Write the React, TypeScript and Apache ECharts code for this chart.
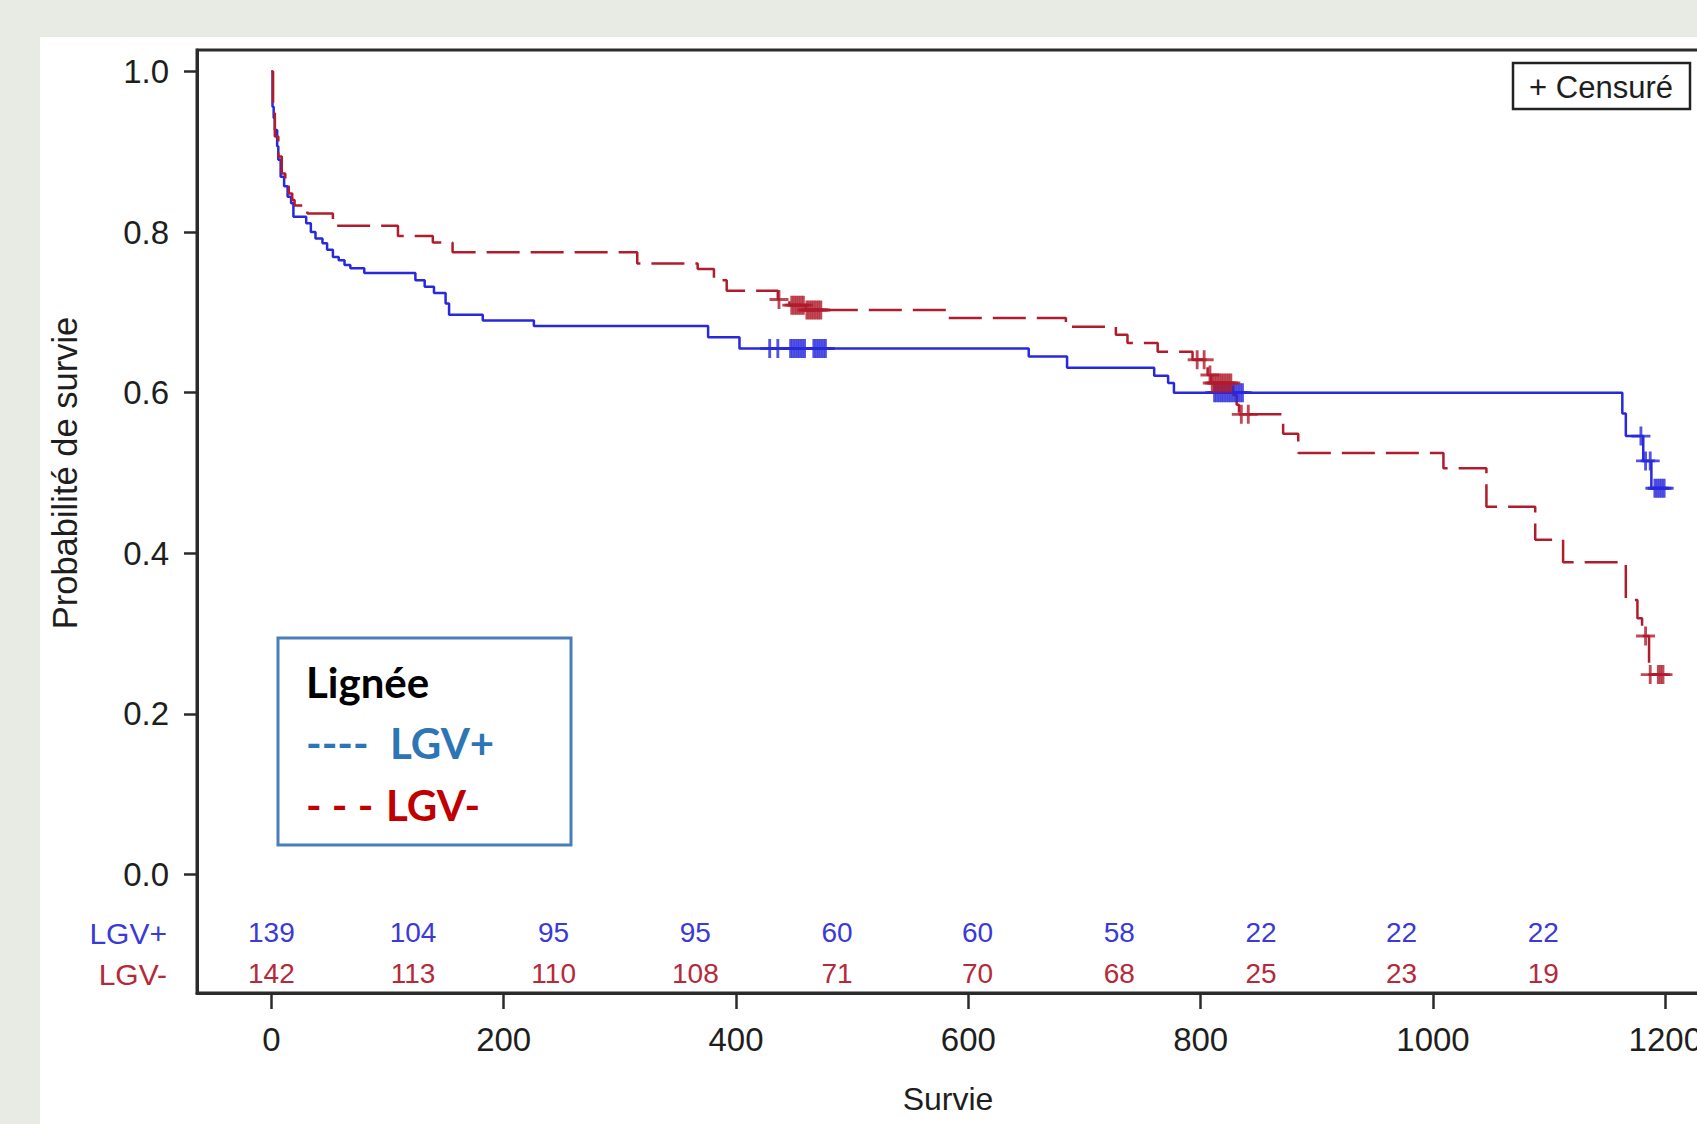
import React, { useEffect, useRef } from "react";
import * as echarts from "echarts";

// ---------- data ----------
const xTicks = [0, 200, 400, 600, 800, 1000, 1200];
const yTicks = [0, 0.2, 0.4, 0.6, 0.8, 1.0];

const atRiskTimes = [0, 122, 243, 365, 487, 608, 730, 852, 973, 1095];
const atRiskPlus = [139, 104, 95, 95, 60, 60, 58, 22, 22, 22];
const atRiskMinus = [142, 113, 110, 108, 71, 70, 68, 25, 23, 19];

// Kaplan-Meier steps [time, survival] for LGV+
const lgvPlusCurve = [
  [0, 1.0], [1, 0.956], [2, 0.942], [3, 0.927], [5, 0.907], [6, 0.89], [8, 0.869],
  [11, 0.857], [14, 0.844], [17, 0.836], [19, 0.819], [30, 0.811], [34, 0.8],
  [38, 0.792], [44, 0.786], [48, 0.778], [53, 0.769], [58, 0.765], [63, 0.759],
  [68, 0.755], [80, 0.749], [124, 0.74], [132, 0.732], [140, 0.724], [150, 0.711],
  [153, 0.697], [182, 0.69], [226, 0.683], [376, 0.669], [403, 0.655], [652, 0.645],
  [685, 0.631], [760, 0.621], [772, 0.612], [777, 0.6], [1163, 0.574], [1166, 0.546],
  [1181, 0.515], [1188, 0.481], [1199, 0.481],
];

// Kaplan-Meier steps [time, survival] for LGV-
const lgvMinusCurve = [
  [0, 1.0], [1.5, 0.948], [3, 0.919], [6, 0.894], [9, 0.873], [12, 0.857], [15, 0.848],
  [18, 0.84], [20, 0.833], [31, 0.823], [53, 0.808], [109, 0.795], [139, 0.787],
  [156, 0.775], [315, 0.761], [367, 0.754], [381, 0.74], [392, 0.727], [436, 0.716],
  [446, 0.709], [460, 0.703], [583, 0.693], [684, 0.682], [727, 0.672], [737, 0.662],
  [763, 0.651], [793, 0.641], [806, 0.622], [809, 0.612], [828, 0.597], [831, 0.585],
  [833, 0.573], [871, 0.549], [884, 0.525], [1009, 0.506], [1046, 0.458], [1088, 0.417],
  [1112, 0.389], [1166, 0.342], [1176, 0.319], [1180, 0.297], [1186, 0.249], [1198, 0.249],
];

// censored observations [time, survival]
const lgvPlusCensored = [
  [429, 0.655], [436, 0.655],
  [447, 0.655], [449, 0.655], [451, 0.655], [453, 0.655], [455, 0.655], [457, 0.655], [459, 0.655],
  [467, 0.655], [469, 0.655], [471, 0.655], [473, 0.655], [475, 0.655], [477, 0.655],
  [812, 0.6], [814, 0.6], [816, 0.6], [818, 0.6], [820, 0.6], [822, 0.6], [824, 0.6],
  [826, 0.6], [828, 0.6], [830, 0.6], [832, 0.6], [834, 0.6], [836, 0.6],
  [1179, 0.546], [1183, 0.515], [1187, 0.515],
  [1191, 0.481], [1193, 0.481], [1195, 0.481], [1197, 0.481], [1199, 0.481],
];

const lgvMinusCensored = [
  [437, 0.716],
  [448, 0.709], [450, 0.709], [452, 0.709], [454, 0.709], [456, 0.709], [458, 0.709],
  [461, 0.703], [463, 0.703], [465, 0.703], [467, 0.703], [469, 0.703], [471, 0.703], [473, 0.703],
  [797, 0.641], [803, 0.641], [808, 0.622],
  [810, 0.612], [812, 0.612], [814, 0.612], [816, 0.612], [818, 0.612], [820, 0.612],
  [822, 0.612], [824, 0.612], [826, 0.612],
  [835, 0.573], [841, 0.573],
  [1183, 0.297],
  [1187, 0.249], [1194, 0.249], [1196, 0.249], [1198, 0.249],
];

// ---------- styles ----------
const FONT = '"Liberation Sans", Arial, Helvetica, sans-serif';
const LEG_FONT = 'Lato, "Open Sans", sans-serif';
const BLUE = "#2828dc";
const RED = "#b01c2c";
const BLUE_TXT = "#3a3ad8";
const RED_TXT = "#b52a3a";
const AXIS = "#2b2b2b";
const PLUS = "path://M8.5,0H11.5V8.5H20V11.5H11.5V20H8.5V11.5H0V8.5H8.5Z";
const ROW_Y_PLUS = -0.0725;
const ROW_Y_MINUS = -0.1235;

function atRiskSeries(counts: number[], rowY: number, color: string) {
  return {
    type: "custom",
    coordinateSystem: "cartesian2d",
    silent: true,
    clip: false,
    z: 6,
    data: atRiskTimes.map((t, i) => [t, rowY, counts[i]]),
    renderItem: (_p: any, api: any) => {
      const pt = api.coord([api.value(0), api.value(1)]);
      return {
        type: "text",
        x: pt[0],
        y: pt[1],
        style: {
          text: String(api.value(2)),
          fill: color,
          font: `28px ${FONT}`,
          align: "center",
          verticalAlign: "middle",
        },
      };
    },
  };
}

export default function App() {
  const ref = useRef<HTMLDivElement>(null);

  useEffect(() => {
    if (!ref.current) return;
    const chart = echarts.init(ref.current, undefined, { renderer: "svg" });
    const option: any = {
      animation: false,
      backgroundColor: "transparent",
      grid: {
        left: 197,
        top: 50,
        width: 1502,
        height: 943,
        show: true,
        borderColor: AXIS,
        borderWidth: 3,
        backgroundColor: "transparent",
        containLabel: false,
        outerBoundsMode: "none",
      },
      xAxis: {
        type: "value",
        min: -64,
        max: 1229,
        axisLine: { show: true, onZero: false, lineStyle: { color: AXIS, width: 3 } },
        axisTick: { show: true, length: 16, customValues: xTicks, lineStyle: { color: AXIS, width: 2.5 } },
        axisLabel: {
          customValues: xTicks,
          formatter: (v: number) => String(v),
          margin: 30,
          fontSize: 33,
          color: "#1e1e1e",
          fontFamily: FONT,
        },
        splitLine: { show: false },
        name: "Survie",
        nameLocation: "middle",
        nameGap: 90,
        nameTextStyle: { fontSize: 32, color: "#1e1e1e", fontFamily: FONT },
      },
      yAxis: {
        type: "value",
        min: -0.1475,
        max: 1.0267,
        axisLine: { show: true, onZero: false, lineStyle: { color: AXIS, width: 3 } },
        axisTick: { show: true, length: 13, customValues: yTicks, lineStyle: { color: AXIS, width: 2.5 } },
        axisLabel: {
          customValues: yTicks,
          formatter: (v: number) => v.toFixed(1),
          margin: 28,
          fontSize: 33,
          color: "#1e1e1e",
          fontFamily: FONT,
        },
        splitLine: { show: false },
      },
      graphic: [
        {
          type: "text",
          x: 65,
          y: 473,
          rotation: Math.PI / 2,
          style: {
            text: "Probabilité de survie",
            fill: "#1e1e1e",
            font: `34.5px ${FONT}`,
            align: "center",
            verticalAlign: "middle",
          },
        },
        {
          type: "text",
          x: 167,
          y: 933,
          style: { text: "LGV+", fill: BLUE_TXT, font: `30px ${FONT}`, align: "right", verticalAlign: "middle" },
        },
        {
          type: "text",
          x: 167,
          y: 974,
          style: { text: "LGV-", fill: RED_TXT, font: `30px ${FONT}`, align: "right", verticalAlign: "middle" },
        },
        // Censuré box
        {
          type: "rect",
          shape: { x: 1513, y: 63, width: 177, height: 46 },
          style: { fill: "#fff", stroke: "#222", lineWidth: 2.5 },
          z: 10,
        },
        {
          type: "text",
          x: 1601,
          y: 87,
          z: 11,
          style: { text: "+ Censuré", fill: "#1e1e1e", font: `31px ${FONT}`, align: "center", verticalAlign: "middle" },
        },
        // Lignée legend box
        {
          type: "rect",
          shape: { x: 278, y: 638, width: 293, height: 207 },
          style: { fill: "#fff", stroke: "#4a7ebb", lineWidth: 3 },
          z: 10,
        },
        {
          type: "text",
          x: 306,
          y: 682,
          z: 11,
          style: { text: "Lignée", fill: "#000", font: `bold 42px ${LEG_FONT}`, align: "left", verticalAlign: "middle" },
        },
        {
          type: "text",
          x: 306,
          y: 743,
          z: 11,
          style: { text: "----", fill: "#2e75b6", font: `bold 42px ${LEG_FONT}`, align: "left", verticalAlign: "middle" },
        },
        {
          type: "text",
          x: 390,
          y: 743,
          z: 11,
          style: { text: "LGV+", fill: "#2e75b6", font: `bold 42px ${LEG_FONT}`, align: "left", verticalAlign: "middle" },
        },
        {
          type: "text",
          x: 306,
          y: 805,
          z: 11,
          style: { text: "- - -", fill: "#c00000", font: `bold 42px ${LEG_FONT}`, align: "left", verticalAlign: "middle" },
        },
        {
          type: "text",
          x: 386,
          y: 805,
          z: 11,
          style: { text: "LGV-", fill: "#c00000", font: `bold 42px ${LEG_FONT}`, align: "left", verticalAlign: "middle" },
        },
      ],
      series: [
        {
          type: "line",
          name: "LGV+",
          data: lgvPlusCurve,
          step: "end",
          symbol: "none",
          showSymbol: false,
          lineStyle: { color: BLUE, width: 2.5 },
          itemStyle: { color: BLUE },
          z: 3,
        },
        {
          type: "line",
          name: "LGV-",
          data: lgvMinusCurve,
          step: "end",
          symbol: "none",
          showSymbol: false,
          lineStyle: { color: RED, width: 2.5, type: [33, 11] },
          itemStyle: { color: RED },
          z: 3,
        },
        {
          type: "scatter",
          data: lgvPlusCensored,
          symbol: PLUS,
          symbolSize: 19,
          itemStyle: { color: BLUE },
          z: 4,
        },
        {
          type: "scatter",
          data: lgvMinusCensored,
          symbol: PLUS,
          symbolSize: 19,
          itemStyle: { color: RED },
          z: 4,
        },
        atRiskSeries(atRiskPlus, ROW_Y_PLUS, BLUE_TXT),
        atRiskSeries(atRiskMinus, ROW_Y_MINUS, RED_TXT),
      ],
    };
    chart.setOption(option);
    return () => chart.dispose();
  }, []);

  return (
    <div
      style={{
        position: "fixed",
        left: 0,
        top: 0,
        width: 1697,
        height: 1124,
        background: "#e8ebe4",
        overflow: "hidden",
      }}
    >
      <div style={{ position: "absolute", left: 40, top: 37, right: 0, bottom: 0, background: "#ffffff" }} />
      <div ref={ref} style={{ position: "absolute", left: 0, top: 0, width: 1697, height: 1124 }} />
    </div>
  );
}
